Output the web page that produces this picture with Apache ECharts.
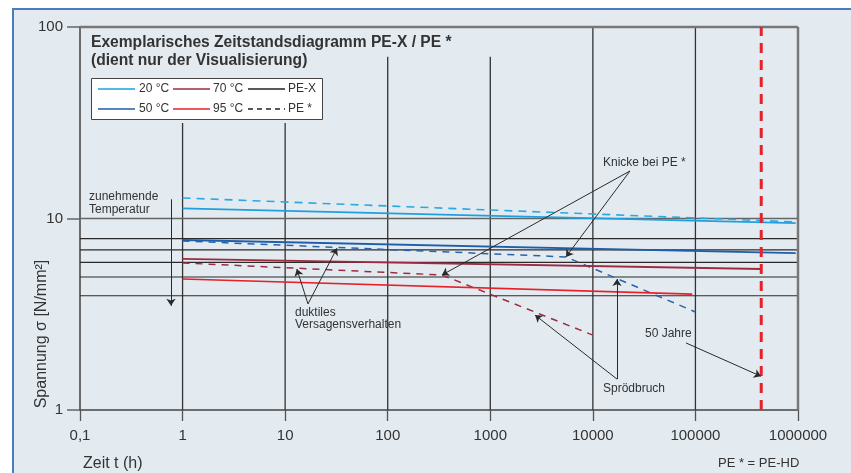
<!DOCTYPE html>
<html>
<head>
<meta charset="utf-8">
<script src="https://cdn.jsdelivr.net/npm/echarts@6/dist/echarts.min.js"></script>
<style>
  body { margin: 0; background: #fff; }
  #frame { position: absolute; left: 12px; top: 8px; width: 845px; height: 470px;
           background: #e3ebf1; border-left: 2px solid #4a7cc0; border-top: 2px solid #4a7cc0; box-sizing: border-box; }
  #chart { position: absolute; left: 0; top: 0; width: 851px; height: 473px; }
</style>
</head>
<body>
<div id="frame"></div>
<div id="chart"></div>
<script>
// axis ticks
var xTickLabels = ['0,1', '1', '10', '100', '1000', '10000', '100000', '1000000'];
var yTickLabels = ['1', '10', '100'];

// vertical decade lines: [time, upper stress where the line stops]
var decadeLines = [[1, 31.5], [10, 31.5], [100, 70], [1000, 70], [10000, 100], [100000, 100]];
// horizontal black reference lines (N/mm²)
var refLevels = [7.85, 6.85, 5.9, 4.95, 3.95];

// curves [t (h), sigma (N/mm²)]
var pex20 = [[1, 11.3], [950000, 9.45]];
var pe20 = [[1, 12.8], [950000, 9.6]];
var pex50 = [[1, 7.72], [950000, 6.6]];
var pe50 = [[1, 7.63], [5470, 6.3], [100000, 3.25]];
var pex70 = [[1, 6.15], [438000, 5.45]];
var pe70 = [[1, 5.86], [338, 5.07], [10000, 2.46]];
var pex95 = [[1, 4.83], [93000, 4.03]];

var fiftyYears = 438000;

// annotation arrows [from, to]
var arrows = [
  [[0.771, 12.6], [0.771, 3.5]],
  [[16.7, 3.58], [13, 5.45]],
  [[16.7, 3.58], [32, 7.0]],
  [[23000, 17.7], [338, 5.07]],
  [[23000, 17.7], [5470, 6.3]],
  [[17200, 1.45], [2730, 3.13]],
  [[17200, 1.45], [17200, 4.83]],
  [[80900, 2.24], [435500, 1.5]]
];

var FONT = 'Liberation Sans, Arial, sans-serif';
var TXT = '#333';

var chart = echarts.init(document.getElementById('chart'));

function plain(data, color, width, dash, z) {
  return {
    type: 'line', data: data, symbol: 'none', silent: true, clip: false, z: z || 2,
    lineStyle: { color: color, width: width, type: dash ? dash : 'solid' }
  };
}

var series = [];
decadeLines.forEach(function (d) {
  series.push(plain([[d[0], 1], [d[0], d[1]]], '#333', 1.3, null, 1));
});
refLevels.forEach(function (v) {
  series.push(plain([[0.1, v], [1000000, v]], '#2a2a2a', 1.2, null, 1));
});
series.push(plain([[0.1, 10], [1000000, 10]], '#666', 1.6, null, 1));
series.push(plain([[0.1, 100], [1000000, 100]], '#777', 2.5, null, 1));
series.push(plain([[1000000, 1], [1000000, 100]], '#777', 2.5, null, 1));

series.push(plain(pe20, '#2aa8e2', 1.6, [8, 6]));
series.push(plain(pex20, '#1ea0e0', 1.8));
series.push(plain(pe50, '#2864ad', 1.5, [7, 6]));
series.push(plain(pex50, '#1f5ea8', 1.8));
series.push(plain(pe70, '#a02a42', 1.5, [7, 6]));
series.push(plain(pex70, '#9e2a40', 1.8));
series.push(plain(pex95, '#e8202a', 1.6));
series.push(plain([[fiftyYears, 1], [fiftyYears, 100]], '#e8202a', 3, [10, 7], 3));

series.push({
  type: 'lines', coordinateSystem: 'cartesian2d', silent: true, z: 4,
  symbol: ['none', 'arrow'], symbolSize: 7,
  lineStyle: { color: '#2a2a2a', width: 1, opacity: 1, curveness: 0 },
  data: arrows.map(function (a) { return { coords: a }; })
});

function txt(x, y, s, size, weight, align) {
  return {
    type: 'text', x: x, y: y, z: 10, silent: true,
    style: { text: s, fill: TXT, font: (weight || 'normal') + ' ' + size + 'px ' + FONT,
             align: align || 'left', verticalAlign: 'middle' }
  };
}
function lg(x1, y, color, dash) {
  return { type: 'line', z: 11, silent: true, shape: { x1: x1, y1: y, x2: x1 + 37, y2: y },
           style: { stroke: color, lineWidth: 1.5, lineDash: dash || null } };
}

var graphics = [
  txt(91, 43, 'Exemplarisches Zeitstandsdiagramm PE-X / PE *', 15.6, 'bold'),
  txt(91, 61, '(dient nur der Visualisierung)', 15.6, 'bold'),
  { type: 'rect', z: 10, silent: true, shape: { x: 91.5, y: 78.5, width: 231, height: 41 },
    style: { fill: '#fff', stroke: '#444', lineWidth: 1 } },
  lg(98, 89, '#1ea0e0'), txt(139, 89, '20 °C', 12),
  lg(173, 89, '#9e2a40'), txt(213, 89, '70 °C', 12),
  lg(248, 89, '#222'), txt(288, 89, 'PE-X', 12),
  lg(98, 109, '#1f5ea8'), txt(139, 109, '50 °C', 12),
  lg(173, 109, '#e8202a'), txt(213, 109, '95 °C', 12),
  lg(248, 109, '#222', [5, 4]), txt(288, 109, 'PE *', 12),
  txt(89, 197, 'zunehmende', 12),
  txt(89, 210, 'Temperatur', 12),
  txt(295, 313, 'duktiles', 12),
  txt(295, 325, 'Versagensverhalten', 12),
  txt(603, 163, 'Knicke bei PE *', 12),
  txt(603, 389, 'Sprödbruch', 12),
  txt(645, 334, '50 Jahre', 12),
  txt(83, 464, 'Zeit t (h)', 16),
  txt(718, 463, 'PE * = PE-HD', 13),
  { type: 'text', x: 42, y: 334, rotation: Math.PI / 2, z: 10, silent: true,
    style: { text: 'Spannung σ [N/mm²]', fill: TXT, font: '16px ' + FONT, align: 'center', verticalAlign: 'middle' } }
];

chart.setOption({
  animation: false,
  grid: { left: 80, right: 53, top: 27, bottom: 63 },
  xAxis: {
    type: 'log', logBase: 10, min: 0.1, max: 1000000, splitNumber: 7,
    axisLine: { show: true, onZero: false, lineStyle: { color: '#444', width: 1.5 } },
    axisTick: { show: true, length: 11, lineStyle: { color: '#555', width: 1.3 } },
    axisLabel: {
      margin: 18, color: TXT, fontSize: 15, fontFamily: FONT,
      formatter: function (v) {
        var i = Math.round(Math.log10(v)) + 1;
        return xTickLabels[i];
      }
    },
    splitLine: { show: false }
  },
  yAxis: {
    type: 'log', logBase: 10, min: 1, max: 100,
    axisLine: { show: true, lineStyle: { color: '#6b6b6b', width: 2 } },
    axisTick: { show: true, length: 13, lineStyle: { color: '#666', width: 1.5 } },
    axisLabel: {
      margin: 17, color: TXT, fontSize: 15, fontFamily: FONT,
      formatter: function (v) {
        return yTickLabels[Math.round(Math.log10(v))];
      }
    },
    splitLine: { show: false }
  },
  graphic: graphics,
  series: series
});
</script>
</body>
</html>
